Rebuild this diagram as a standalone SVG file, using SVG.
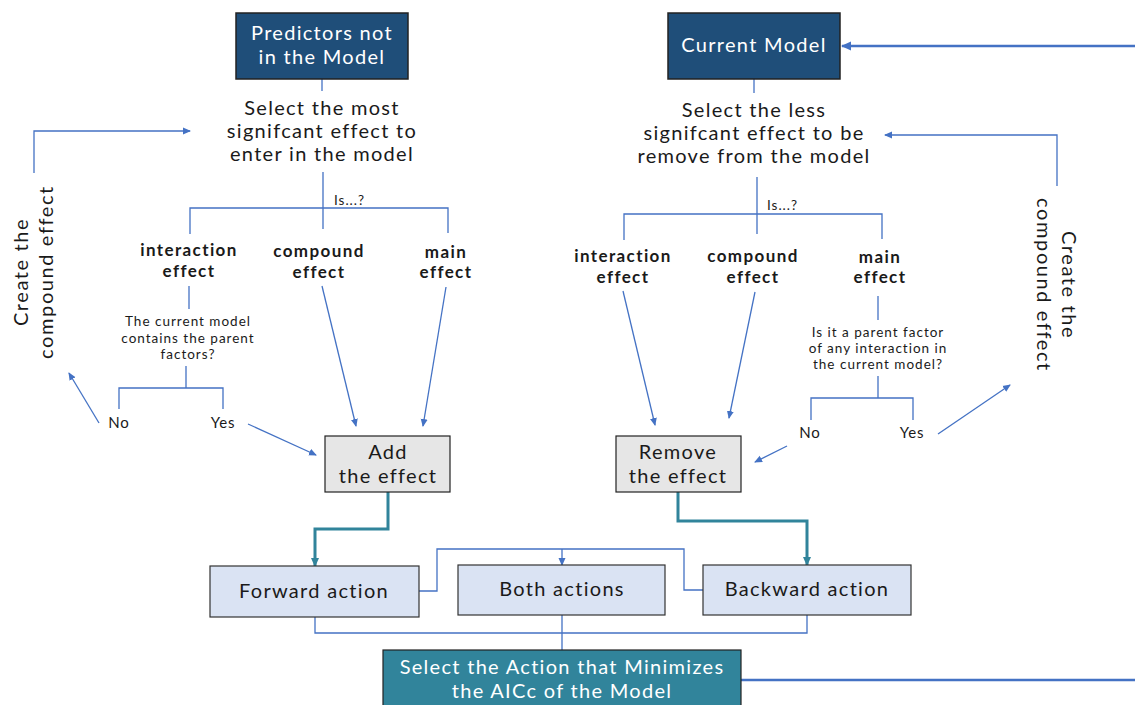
<svg xmlns="http://www.w3.org/2000/svg" width="1135" height="705" viewBox="0 0 1135 705">
<style>
.t{font-family:Lato,"Open Sans","Noto Sans",sans-serif;fill:#1a1a1a}
.big{font-size:20px;letter-spacing:1.3px}
.lbl{font-size:17px;font-weight:bold;letter-spacing:1.4px}
.sm{font-size:13.5px;letter-spacing:1px}
.yn{font-size:15px;letter-spacing:0.8px}
.rot{font-size:20px;letter-spacing:1.6px}
.w{fill:#ffffff}
.ln{fill:none;stroke:#4472C4;stroke-width:1.3}
.th{fill:none;stroke:#4472C4;stroke-width:2.5}
.tl{fill:none;stroke:#31849B;stroke-width:3}
.dark{fill:#1F4E79;stroke:#222;stroke-width:1.5}
.gray{fill:#E6E6E6;stroke:#222;stroke-width:1.2}
.act{fill:#DAE3F3;stroke:#333;stroke-width:1.2}
.sel{fill:#31849B;stroke:#222;stroke-width:1.2}
</style>
<defs>
<marker id="ab" markerWidth="8" markerHeight="8" refX="7" refY="4" orient="auto" markerUnits="userSpaceOnUse"><path d="M0,0.5 L8,4 L0,7.5 Z" fill="#4472C4"/></marker>
<marker id="ab2" markerWidth="10" markerHeight="10" refX="9" refY="5" orient="auto" markerUnits="userSpaceOnUse"><path d="M0,0.5 L10,5 L0,9.5 Z" fill="#4472C4"/></marker>
<marker id="at" markerWidth="9" markerHeight="9" refX="8" refY="4.5" orient="auto" markerUnits="userSpaceOnUse"><path d="M0,0.5 L9,4.5 L0,8.5 Z" fill="#31849B"/></marker>
</defs>
<g id="connectors">
<path class="ln" d="M322,79 V91"/>
<path class="ln" d="M323,172 V229 M190,234 V208 H448 V233"/>
<path class="ln" d="M34,173 V131 H190" marker-end="url(#ab)"/>
<path class="ln" d="M189,286 V309"/>
<path class="ln" d="M186,366 V388 M119,409 V388 H223 V409"/>
<path class="ln" d="M99,423 L69,373" marker-end="url(#ab)"/>
<path class="ln" d="M248,424 L316,455" marker-end="url(#ab)"/>
<path class="ln" d="M322,286 L356,426" marker-end="url(#ab)"/>
<path class="ln" d="M446,287 L423,426" marker-end="url(#ab)"/>
<path class="ln" d="M754,79 V93"/>
<path class="ln" d="M757,177 V234 M624,240 V214 H882 V239"/>
<path class="ln" d="M1057,186 V135 H885" marker-end="url(#ab)"/>
<path class="th" d="M1135,46 H842" marker-end="url(#ab2)"/>
<path class="ln" d="M623,291 L655,425" marker-end="url(#ab)"/>
<path class="ln" d="M755,292 L729,418" marker-end="url(#ab)"/>
<path class="ln" d="M878,296 V320"/>
<path class="ln" d="M878,376 V398 M811,420 V398 H913 V420"/>
<path class="ln" d="M787,446 L755,462" marker-end="url(#ab)"/>
<path class="ln" d="M938,434 L1010,385" marker-end="url(#ab)"/>
<path class="tl" d="M388,492 V529 H315 V566" marker-end="url(#at)"/>
<path class="tl" d="M678,492 V521 H807 V565" marker-end="url(#at)"/>
<path class="ln" d="M419,591 H437 V549 H684 V590 H703"/>
<path class="ln" d="M562,549 V565" marker-end="url(#ab)"/>
<path class="ln" d="M315,617 V633 H807 V615 M562,615 V650"/>
<path class="th" d="M741,680 H1135"/>
</g>
<g id="n-predictors">
<rect class="dark" x="236" y="13" width="172" height="66"/>
<text class="t big w" text-anchor="middle"><tspan x="322" y="40">Predictors not</tspan><tspan x="322" y="64">in the Model</tspan></text>
</g>
<g id="n-select-most">
<text class="t big" text-anchor="middle"><tspan x="322" y="115">Select the most</tspan><tspan x="322" y="138">signifcant effect to</tspan><tspan x="322" y="161">enter in the model</tspan></text>
</g>
<g id="n-is-left"><text class="t sm" x="334" y="205">Is...?</text></g>
<g id="n-l-interaction"><text class="t lbl" text-anchor="middle"><tspan x="189" y="256">interaction</tspan><tspan x="189" y="277">effect</tspan></text></g>
<g id="n-l-compound"><text class="t lbl" text-anchor="middle"><tspan x="319" y="257">compound</tspan><tspan x="319" y="278">effect</tspan></text></g>
<g id="n-l-main"><text class="t lbl" text-anchor="middle"><tspan x="446" y="258">main</tspan><tspan x="446" y="278">effect</tspan></text></g>
<g id="n-l-question"><text class="t sm" text-anchor="middle"><tspan x="188" y="326">The current model</tspan><tspan x="188" y="343">contains the parent</tspan><tspan x="188" y="359">factors?</tspan></text></g>
<g id="n-l-no"><text class="t yn" x="119" y="428" text-anchor="middle">No</text></g>
<g id="n-l-yes"><text class="t yn" x="223" y="428" text-anchor="middle">Yes</text></g>
<g id="n-l-create"><text class="t rot" text-anchor="middle" transform="translate(22,272) rotate(-90)"><tspan x="0" y="6">Create the</tspan><tspan x="0" y="31">compound effect</tspan></text></g>
<g id="n-add">
<rect class="gray" x="325" y="436" width="125" height="56"/>
<text class="t big" text-anchor="middle"><tspan x="388" y="459">Add</tspan><tspan x="388" y="483">the effect</tspan></text>
</g>
<g id="n-current">
<rect class="dark" x="668" y="13" width="172" height="66"/>
<text class="t big w" x="754" y="52" text-anchor="middle">Current Model</text>
</g>
<g id="n-select-less">
<text class="t big" text-anchor="middle"><tspan x="754" y="117">Select the less</tspan><tspan x="754" y="140">signifcant effect to be</tspan><tspan x="754" y="163">remove from the model</tspan></text>
</g>
<g id="n-is-right"><text class="t sm" x="767" y="210">Is...?</text></g>
<g id="n-r-interaction"><text class="t lbl" text-anchor="middle"><tspan x="623" y="262">interaction</tspan><tspan x="623" y="283">effect</tspan></text></g>
<g id="n-r-compound"><text class="t lbl" text-anchor="middle"><tspan x="753" y="262">compound</tspan><tspan x="753" y="283">effect</tspan></text></g>
<g id="n-r-main"><text class="t lbl" text-anchor="middle"><tspan x="880" y="263">main</tspan><tspan x="880" y="283">effect</tspan></text></g>
<g id="n-r-question"><text class="t sm" text-anchor="middle"><tspan x="878" y="337">Is it a parent factor</tspan><tspan x="878" y="353">of any interaction in</tspan><tspan x="878" y="369">the current model?</tspan></text></g>
<g id="n-r-no"><text class="t yn" x="810" y="438" text-anchor="middle">No</text></g>
<g id="n-r-yes"><text class="t yn" x="912" y="438" text-anchor="middle">Yes</text></g>
<g id="n-r-create"><text class="t rot" text-anchor="middle" transform="translate(1068,285) rotate(90)"><tspan x="0" y="6">Create the</tspan><tspan x="0" y="31">compound effect</tspan></text></g>
<g id="n-remove">
<rect class="gray" x="616" y="436" width="125" height="56"/>
<text class="t big" text-anchor="middle"><tspan x="678" y="459">Remove</tspan><tspan x="678" y="483">the effect</tspan></text>
</g>
<g id="n-forward">
<rect class="act" x="210" y="566" width="209" height="51"/>
<text class="t big" x="314" y="598" text-anchor="middle">Forward action</text>
</g>
<g id="n-both">
<rect class="act" x="458" y="565" width="207" height="50"/>
<text class="t big" x="562" y="596" text-anchor="middle">Both actions</text>
</g>
<g id="n-backward">
<rect class="act" x="703" y="565" width="208" height="50"/>
<text class="t big" x="807" y="596" text-anchor="middle">Backward action</text>
</g>
<g id="n-select-action">
<rect class="sel" x="383" y="650" width="358" height="60"/>
<text class="t big w" text-anchor="middle"><tspan x="562" y="674">Select the Action that Minimizes</tspan><tspan x="562" y="698">the AICc of the Model</tspan></text>
</g>
</svg>
